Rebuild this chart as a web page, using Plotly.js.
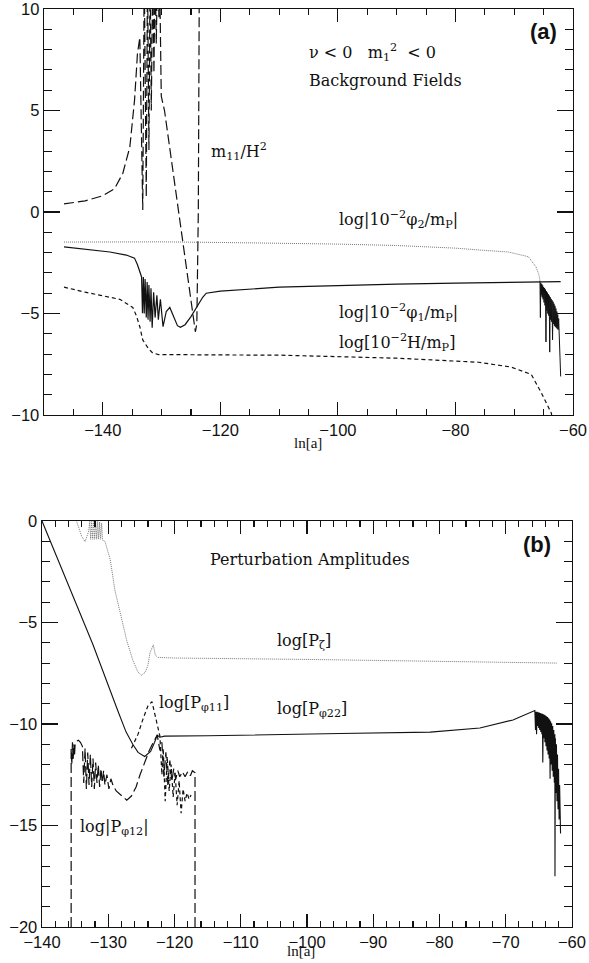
<!DOCTYPE html>
<html>
<head>
<meta charset="utf-8">
<script src="https://cdn.plot.ly/plotly-3.0.1.min.js"></script>
<style>html,body{margin:0;padding:0;background:#fff;}#chart{width:589px;height:963px;}</style>
</head>
<body>
<div id="chart"></div>
<script>
// ---------- Panel (a): background fields ----------
var m11X = [-146.6,-143,-140,-138,-136.6,-135.4,-134.6,-134.1,-133.7,-133.2,-132.95,-132.6,-132.4,-132.15,-131.95,-131.75,-131.5,-131.3,-131.1,-130.9,-130.7,-130.45,-130.3,-130.05,-129.5,-127,-124.25,-124.0,-123.75,-123.6,-123.55];
var m11Y = [0.4,0.55,0.8,1.15,1.9,3.2,5.5,7.8,8.6,0.1,12,0.74,12,3.05,12,5.0,12,6.85,12,8.3,12,9.6,11,5.7,5.0,-0.3,-5.9,-5.5,0,10,12];

var phi2X = [-146.6,-140,-135,-130,-120,-110,-100,-90,-80,-76,-71,-67.6,-66.3,-65.8,-65.6];
var phi2Y = [-1.48,-1.47,-1.45,-1.47,-1.5,-1.53,-1.58,-1.65,-1.78,-1.87,-1.97,-2.2,-2.7,-3.1,-3.4];

var phi2OscX = [-65.62,-65.55,-65.48,-65.40,-65.32,-65.24,-65.16,-65.08,-65.00,-64.92,-64.84,-64.76,-64.68,-64.60,-64.52,-64.44,-64.36,-64.28,-64.20,-64.12,-64.04,-63.96,-63.88,-63.80,-63.72,-63.64,-63.56,-63.48,-63.40,-63.32,-63.24,-63.16,-63.08,-63.00,-62.92,-62.84,-62.76,-62.68,-62.60,-62.52,-62.44,-62.30,-62.10];
var phi2OscY = [-3.40,-5.2,-3.50,-4.1,-3.55,-4.2,-3.62,-4.3,-3.70,-4.45,-3.75,-4.6,-3.82,-6.4,-3.90,-4.85,-3.97,-5.0,-4.05,-5.1,-4.12,-6.9,-4.2,-5.3,-4.28,-5.4,-4.35,-6.3,-4.42,-5.5,-4.52,-5.6,-4.62,-5.65,-4.75,-5.7,-4.9,-5.75,-5.05,-5.8,-5.25,-6.8,-8.1];

var phi1X = [-146.6,-142,-138.8,-136,-134.6,-134.1,-133.6,-133.4,-133.25,-133.1,-132.95,-132.8,-132.6,-132.45,-132.3,-132.15,-131.95,-131.8,-131.6,-131.35,-131.1,-130.8,-130.55,-130.2,-129.75,-129.2,-128.6,-128.0,-127.3,-126.8,-126.0,-125.0,-124.0,-123.0,-122.4,-120,-110,-100,-90,-80,-70,-62.1];
var phi1Y = [-1.72,-1.85,-1.97,-2.12,-2.27,-2.6,-3.0,-3.2,-4.98,-3.2,-5.0,-3.3,-5.2,-3.45,-5.3,-3.6,-5.4,-3.75,-5.7,-3.95,-5.2,-4.1,-5.3,-4.3,-5.65,-4.9,-4.7,-5.1,-5.6,-5.68,-5.55,-5.15,-4.7,-4.2,-4.0,-3.9,-3.7,-3.62,-3.55,-3.5,-3.45,-3.43];

var hubX = [-146.6,-143,-137.1,-134.9,-134.3,-133.7,-133.2,-132.3,-131.5,-130.5,-120,-110,-90,-76.1,-70.5,-67.1,-65.4,-63.7,-63.5];
var hubY = [-3.7,-3.95,-4.3,-4.7,-5.1,-5.65,-6.3,-6.7,-6.95,-7.02,-7.04,-7.05,-7.2,-7.4,-7.64,-8.0,-8.9,-9.9,-10.2];

// ---------- Panel (b): perturbation amplitudes ----------
var pzX = [-134.76,-134.0,-133.5,-133.0,-132.95,-132.8,-132.65,-132.5,-132.35,-132.2,-132.05,-131.9,-131.75,-131.6,-131.45,-131.3,-131.15,-131.0,-130.85,-130.5,-130.2,-129.7,-129.0,-127.9,-127.2,-126.3,-125.5,-125.0,-124.4,-124.0,-123.7,-123.2,-122.9,-122.5,-120,-100,-80,-62.3];
var pzY = [-0.03,-0.77,-1.02,-0.6,-0.5,-0.02,-0.9,-0.02,-0.9,-0.02,-0.9,-0.02,-0.9,-0.02,-0.9,-0.05,-0.9,-0.1,-0.95,-1.0,-1.3,-1.9,-3.4,-4.9,-5.9,-6.85,-7.45,-7.6,-7.45,-7.1,-6.5,-6.1,-6.6,-6.72,-6.75,-6.82,-6.9,-7.0];

var p22X = [-140,-132.3,-128.5,-127.3,-126.3,-125.5,-124.5,-123.6,-123.0,-122.6,-122.2,-121.5,-115,-104,-95,-81.4,-73.9,-68.9,-65.6,-65.50,-65.42,-65.34,-65.26,-65.18,-65.10,-65.02,-64.94,-64.86,-64.78,-64.70,-64.62,-64.54,-64.46,-64.40,-64.32,-64.24,-64.16,-64.08,-64.00,-63.92,-63.84,-63.76,-63.68,-63.60,-63.52,-63.44,-63.36,-63.30,-63.22,-63.14,-63.06,-62.98,-62.90,-62.82,-62.74,-62.66,-62.58,-62.56,-62.50,-62.42,-62.34,-62.26,-62.18,-62.10,-62.02,-61.94,-61.86,-61.78,-61.72];
var p22Y = [0,-6.1,-9.4,-10.4,-11.0,-11.4,-11.6,-11.35,-10.9,-10.55,-10.65,-10.6,-10.58,-10.5,-10.47,-10.4,-10.2,-9.8,-9.34,-10.3,-9.40,-10.5,-9.40,-10.1,-9.42,-10.2,-9.44,-10.3,-9.46,-10.4,-9.48,-10.5,-9.50,-11.9,-9.52,-10.7,-9.55,-10.9,-9.58,-11.1,-9.62,-11.3,-9.66,-11.5,-9.72,-11.7,-9.78,-12.7,-9.86,-12.0,-9.96,-12.3,-10.1,-12.6,-10.3,-12.9,-10.5,-17.5,-10.7,-13.4,-11.0,-13.8,-11.5,-14.2,-12.2,-14.7,-13.0,-15.2,-15.4];

var p11X = [-126.5,-125.5,-124.8,-124.0,-123.4,-122.6,-122.2,-121.9,-121.7,-121.4,-121.1,-120.8,-120.5,-120.2,-119.9,-119.6,-119.3,-119.0,-118.7,-118.4,-118.1,-117.8,-117.5];
var p11Y = [-11.2,-10.5,-9.8,-9.1,-8.9,-10.0,-10.6,-12.5,-11.2,-13.8,-11.6,-13.3,-12.0,-13.6,-12.4,-14.0,-12.8,-14.4,-13.2,-13.8,-13.4,-13.7,-13.5];

var p12X = [-135.6,-135.6,-135.5,-135.4,-135.3,-135.2,-135.1,-135.0,-134.8,-134.5,-134.2,-133.9,-133.7,-133.5,-133.3,-133.1,-132.9,-132.7,-132.5,-132.3,-132.1,-131.9,-131.7,-131.5,-131.3,-131.1,-130.9,-130.7,-130.5,-130.2,-129.9,-129.6,-129.3,-128.8,-128.0,-127.2,-126.5,-125.8,-125.2,-124.5,-123.8,-123.2,-122.6,-122.2,-121.9,-121.6,-121.3,-121.0,-120.7,-120.4,-120.1,-119.8,-119.5,-119.2,-118.8,-118.4,-118.0,-117.6,-117.3,-116.9,-116.9];
var p12Y = [-20,-11.2,-12.0,-10.9,-11.8,-11.0,-11.6,-11.0,-10.85,-10.8,-10.9,-11.1,-12.9,-11.2,-13.2,-11.4,-13.0,-11.5,-13.1,-11.7,-13.2,-11.9,-12.9,-12.0,-13.1,-12.2,-12.9,-12.3,-13.0,-12.5,-13.2,-12.7,-13.0,-13.3,-13.55,-13.75,-13.55,-13.1,-12.5,-11.9,-11.3,-10.9,-10.55,-11.3,-10.9,-12.6,-11.4,-13.0,-11.8,-12.8,-12.2,-12.7,-12.3,-12.6,-12.35,-12.6,-12.35,-12.55,-12.3,-12.4,-20];

// ---------- axis ranges ----------
var aXRange = [-150, -60], aYRange = [-10, 10];
var bXRange = [-140, -60], bYRange = [-20, 0];

var BLACK = '#111';
function tr(x, y, xa, ya, dash, color, width) {
  return {x: x, y: y, xaxis: xa, yaxis: ya, type: 'scatter', mode: 'lines',
    line: {color: color || BLACK, width: width || 1.2, dash: dash || 'solid'},
    hoverinfo: 'skip', showlegend: false};
}
var LONG = '10px,4px', SHORT = '4px,3px', DOT = '1px,1px', GRAY = '#777';
var data = [
  tr(m11X, m11Y, 'x', 'y', LONG),
  tr(phi2X, phi2Y, 'x', 'y', DOT, GRAY, 1),
  tr(phi2OscX, phi2OscY, 'x', 'y', 'solid', BLACK, 1),
  tr(phi1X, phi1Y, 'x', 'y', 'solid'),
  tr(hubX, hubY, 'x', 'y', SHORT),
  tr(pzX, pzY, 'x2', 'y2', DOT, GRAY, 1),
  tr(p22X, p22Y, 'x2', 'y2', 'solid', BLACK, 1.1),
  tr(p11X, p11Y, 'x2', 'y2', SHORT),
  tr(p12X, p12Y, 'x2', 'y2', LONG),
  // empty traces so the minor-tick overlay axes exist
  tr([], [], 'x3', 'y3'),
  tr([], [], 'x4', 'y4')
];

var TICKFONT = {family: 'Liberation Sans, Arial, sans-serif', size: 16.5, color: BLACK};
function ax(range, dtick, domain, anchor, len) {
  return {range: range, domain: domain, anchor: anchor, dtick: dtick, tick0: 0,
    ticks: 'inside', ticklen: len, tickwidth: 1.2, tickcolor: BLACK,
    mirror: 'ticks', showline: true, linecolor: BLACK, linewidth: 1.4,
    ticklabeloverflow: 'allow',
    showgrid: false, zeroline: false, tickfont: TICKFONT, fixedrange: true};
}
function minorAx(range, dtick, over, anchor, len) {
  return {range: range, overlaying: over, anchor: anchor, dtick: dtick, tick0: 0,
    ticks: 'inside', ticklen: len, tickwidth: 1.1, tickcolor: BLACK,
    mirror: 'ticks', showline: true, linecolor: BLACK, linewidth: 1.4,
    showticklabels: false, showgrid: false, zeroline: false, fixedrange: true};
}
var SERIF = {family: 'DejaVu Serif, Liberation Serif, serif', size: 16, color: BLACK};
var AXSERIF = {family: 'Liberation Serif, DejaVu Serif, serif', size: 15, color: BLACK};
function ann(text, x, y, xr, yr, anchor, font) {
  return {text: text, x: x, y: y, xref: xr, yref: yr, xanchor: anchor || 'left', yanchor: 'middle',
    showarrow: false, font: font || SERIF};
}
var NB = '\u00a0';
var LABELFONT = {family: 'Liberation Sans, Arial, sans-serif', size: 22, color: BLACK, weight: 'bold'};
var annotations = [
  ann('(a)', -65.1, 8.87, 'x', 'y', 'center', LABELFONT),
  ann('ν < 0' + NB+NB+NB + 'm<sub>1</sub><sup>2</sup>' + NB + ' < 0', -105.3, 7.88, 'x', 'y'),
  ann('Background Fields', -105.3, 6.5, 'x', 'y'),
  ann('m<sub>11</sub>/H<sup>2</sup>', -121.9, 2.96, 'x', 'y'),
  ann('log|10<sup>−2</sup>φ<sub>2</sub>/m<sub>P</sub>|', -100.2, -0.39, 'x', 'y'),
  ann('log|10<sup>−2</sup>φ<sub>1</sub>/m<sub>P</sub>|', -100.2, -4.93, 'x', 'y'),
  ann('log[10<sup>−2</sup>H/m<sub>P</sub>]', -100.2, -6.45, 'x', 'y'),
  ann('ln[a]', 0.501, 0.5272, 'paper', 'paper', 'center', AXSERIF),
  ann('(b)', -65.3, -1.18, 'x2', 'y2', 'center', LABELFONT),
  ann('Perturbation Amplitudes', -114.9, -1.92, 'x2', 'y2'),
  ann('log[P<sub>ζ</sub>]', -104.8, -5.96, 'x2', 'y2'),
  ann('log[P<sub>φ22</sub>]', -104.8, -9.31, 'x2', 'y2'),
  ann('log[P<sub>φ11</sub>]', -122.6, -8.97, 'x2', 'y2'),
  ann('log|P<sub>φ12</sub>|', -134.6, -15.1, 'x2', 'y2'),
  ann('ln[a]', 0.488, -0.0265, 'paper', 'paper', 'center', AXSERIF)
];

var layout = {
  width: 589, height: 963,
  margin: {l: 42, r: 16, t: 9, b: 36},
  paper_bgcolor: '#fff', plot_bgcolor: '#fff',
  showlegend: false,
  xaxis: ax(aXRange, 20, [0.0038, 1], 'y', 13),
  yaxis: ax(aYRange, 5, [0.5577, 1], 'x', 16),
  xaxis2: ax(bXRange, 10, [0, 0.998], 'y2', 13),
  yaxis2: ax(bYRange, 5, [0, 0.4423], 'x2', 16),
  xaxis3: minorAx(aXRange, 5, 'x', 'y', 6),
  yaxis3: minorAx(aYRange, 1, 'y', 'x', 8),
  xaxis4: minorAx(bXRange, 2, 'x2', 'y2', 6),
  yaxis4: minorAx(bYRange, 1, 'y2', 'x2', 8),
  annotations: annotations
};
Plotly.newPlot('chart', data, layout, {staticPlot: true, displayModeBar: false});
</script>
</body>
</html>
